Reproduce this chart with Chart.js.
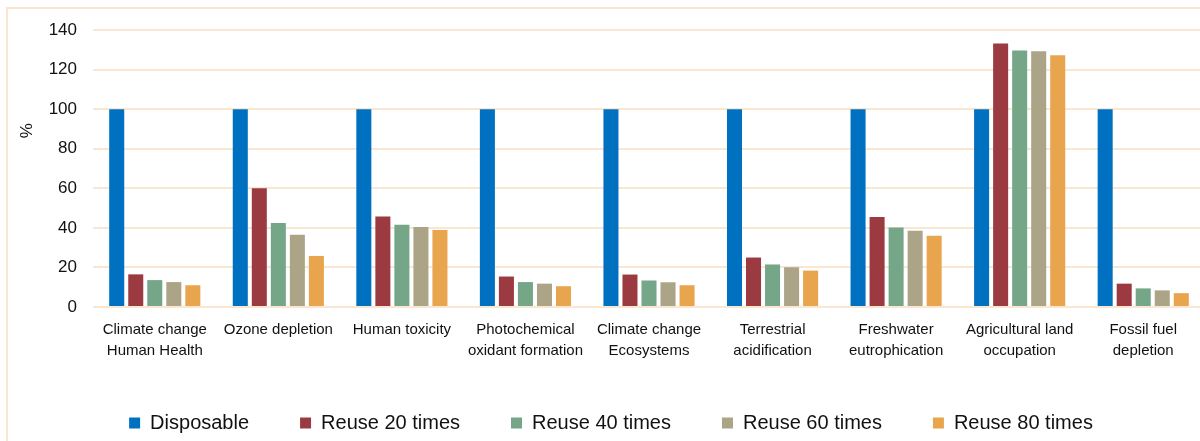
<!DOCTYPE html>
<html>
<head>
<meta charset="utf-8">
<script src="https://cdn.jsdelivr.net/npm/chart.js@4"></script>
<style>
  html, body { margin: 0; padding: 0; background: #fff; overflow: hidden; }
  #frame {
    position: absolute; left: 6px; top: 7px; width: 1260px; height: 500px;
    border: 2px solid #f8e6d0; box-sizing: border-box;
  }
  #wrap { position: absolute; left: 0; top: 0; width: 1214px; height: 441px; }
</style>
</head>
<body>
<div id="frame"></div>
<div id="wrap"><canvas id="impactChart"></canvas></div>
<script>
// categories
const categories = [
    ['Climate change', 'Human Health'],
    'Ozone depletion',
    'Human toxicity',
    ['Photochemical', 'oxidant formation'],
    ['Climate change', 'Ecosystems'],
    ['Terrestrial', 'acidification'],
    ['Freshwater', 'eutrophication'],
    ['Agricultural land', 'occupation'],
    ['Fossil fuel', 'depletion']
];

// series values (% of disposable)
const disposable = [100, 100, 100, 100, 100, 100, 100, 100, 100];
const reuse20 = [16.5, 60.0, 45.8, 15.4, 16.4, 25.0, 45.5, 133.2, 11.8];
const reuse40 = [13.6, 42.4, 41.6, 12.6, 13.4, 21.5, 40.2, 129.7, 9.4];
const reuse60 = [12.6, 36.5, 40.4, 11.8, 12.5, 20.1, 38.5, 129.2, 8.4];
const reuse80 = [11.0, 25.8, 38.9, 10.5, 11.0, 18.4, 36.0, 127.3, 7.0];

const seriesNames = ['Disposable', 'Reuse 20 times', 'Reuse 40 times', 'Reuse 60 times', 'Reuse 80 times'];
const seriesColors = ['#0070c0', '#9c3a42', '#76a688', '#aca487', '#e9a54d'];
const yTicks = [0, 20, 40, 60, 80, 100, 120, 140];

const FONT = "'Liberation Sans', Arial, sans-serif";
const gridColor = '#f9e7d2';

const ctx = document.getElementById('impactChart').getContext('2d');

const allSeries = [disposable, reuse20, reuse40, reuse60, reuse80];

new Chart(ctx, {
    type: 'bar',
    data: {
        labels: categories,
        datasets: allSeries.map((vals, i) => ({
            label: seriesNames[i],
            data: vals,
            backgroundColor: seriesColors[i],
            borderWidth: 0,
            barPercentage: 0.79,
            categoryPercentage: 0.77
        }))
    },
    options: {
        responsive: true,
        maintainAspectRatio: false,
        animation: false,
        layout: { padding: { left: 17, right: 9, top: 30, bottom: -2 } },
        plugins: {
            tooltip: { enabled: false },
            legend: {
                position: 'bottom',
                labels: {
                    font: { family: FONT, size: 20 },
                    color: '#111',
                    boxWidth: 11,
                    boxHeight: 11,
                    padding: 51
                }
            }
        },
        scales: {
            x: {
                grid: { display: false, drawTicks: false },
                border: { display: false },
                ticks: {
                    font: { family: FONT, size: 15, lineHeight: 1.4 },
                    color: '#111',
                    padding: 12,
                    maxRotation: 0,
                    autoSkip: false
                },
                afterFit: s => { s.height = 55; }
            },
            y: {
                min: 0,
                max: 140,
                afterBuildTicks: s => { s.ticks = yTicks.map(v => ({ value: v })); },
                grid: { color: gridColor, lineWidth: 2, drawTicks: false },
                border: { display: false },
                ticks: {
                    font: { family: FONT, size: 17 },
                    color: '#111',
                    padding: 16
                },
                title: {
                    display: true,
                    // leading spaces lift the rotated glyph to sit near 100
                    text: '                %',
                    font: { family: FONT, size: 17 },
                    color: '#111',
                    padding: { top: 0, bottom: 0 }
                },
                afterFit: s => { s.width = 76; }
            }
        }
    }
});
</script>
</body>
</html>
